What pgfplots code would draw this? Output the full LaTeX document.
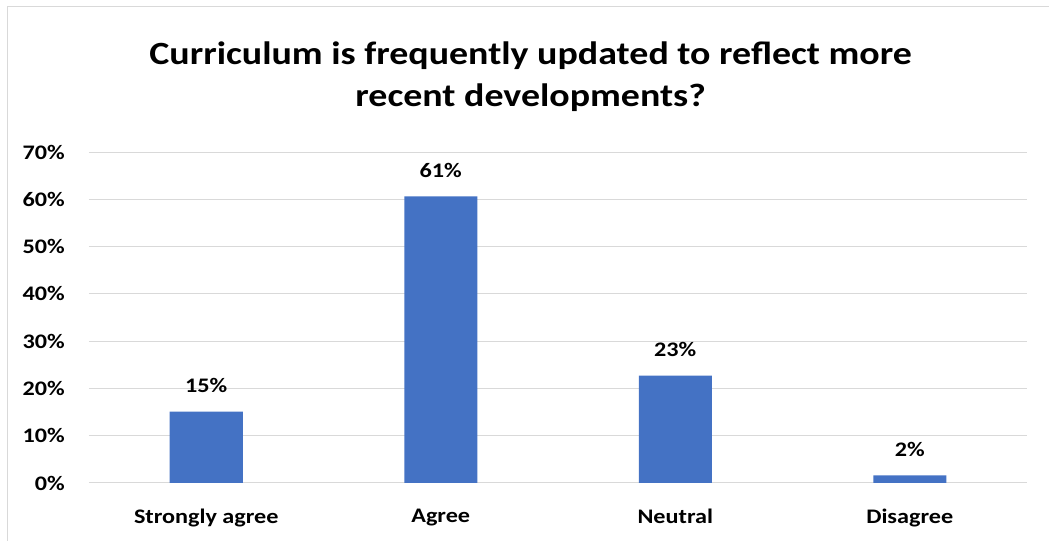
\documentclass[border=0pt]{standalone}
\usepackage{fontspec}
\setmainfont{Carlito}[FakeStretch=1.17]
\usepackage{pgfplots}
\pgfplotsset{compat=1.18}
\definecolor{barblue}{HTML}{4472C4}
\definecolor{gridgray}{HTML}{D9D9D9}
\begin{document}
\begin{tikzpicture}
\useasboundingbox (0,0) rectangle (786.75pt,405.75pt);
% chart frame (only left and top edges are visible)
\draw[gridgray, line width=0.75pt] (5.25pt,0) -- (5.25pt,400.5pt) -- (786.75pt,400.5pt);
\node[font=\fontsize{24.3}{31.5}\selectfont\bfseries, align=center] at (398pt,348pt)
  {Curriculum is frequently updated to reflect more\\recent developments?};
\begin{axis}[
    at={(66.75pt,43.5pt)}, anchor=south west,
    scale only axis, width=703.5pt, height=248.25pt,
    ybar, bar width=54.75pt,
    xmin=-0.5, xmax=3.5, ymin=0, ymax=70,
    xtick=data,
    xticklabels={Strongly agree,Agree,Neutral,Disagree},
    ytick={0,10,...,70},
    yticklabel={\pgfmathprintnumber{\tick}\%},
    ymajorgrids,
    grid style={gridgray, line width=0.75pt},
    axis line style={draw=none},
    major tick style={draw=none},
    tick label style={font=\fontsize{15.5}{18}\selectfont\bfseries},
    /pgf/number format/assume math mode=true,
    yticklabel style={inner sep=0pt, xshift=-18pt},
    xticklabel style={inner sep=0pt, yshift=-15pt},
    nodes near coords={\pgfmathprintnumber[fixed,precision=0]{\pgfplotspointmeta}\%},
    nodes near coords style={font=\fontsize{15.5}{18}\selectfont\bfseries, inner sep=0pt, yshift=14pt},
    clip=false,
]
\addplot[fill=barblue, draw=none] coordinates {
    (0,15.1) (1,60.6) (2,22.7) (3,1.6)
};
\end{axis}
\end{tikzpicture}
\end{document}
